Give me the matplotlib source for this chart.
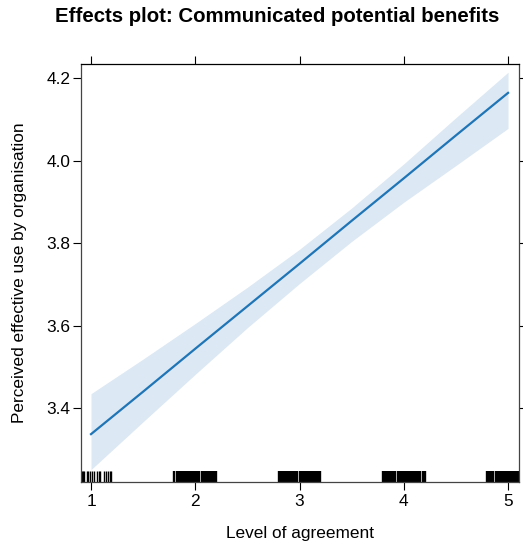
import matplotlib
matplotlib.use('Agg')
import matplotlib.pyplot as plt
import matplotlib.transforms as mtransforms

plt.rcParams['font.family'] = ['Liberation Sans', 'DejaVu Sans']

# fitted effect and confidence band
agree = [1.0, 1.5, 2.0, 2.5, 3.0, 3.5, 4.0, 4.5, 5.0]
fit   = [3.337, 3.440, 3.544, 3.647, 3.750, 3.854, 3.957, 4.061, 4.164]
lower = [3.251, 3.367, 3.482, 3.595, 3.702, 3.804, 3.899, 3.988, 4.078]
upper = [3.435, 3.519, 3.605, 3.693, 3.785, 3.885, 3.992, 4.104, 4.214]

# jittered observations for the rug
rug_1 = [0.91, 0.925, 0.935, 0.96, 0.975, 0.99, 1.01, 1.03, 1.06, 1.075,
         1.09, 1.12, 1.14, 1.16, 1.18, 1.19]
rug_2 = [1.80, 1.82, 1.84, 1.86, 1.88, 1.90, 1.92, 1.94, 1.96, 1.98, 2.00,
         2.02, 2.04, 2.06, 2.08, 2.10, 2.12, 2.14, 2.16, 2.18, 2.20]
rug_3 = [2.80, 2.82, 2.84, 2.86, 2.88, 2.90, 2.92, 2.94, 2.96, 2.98, 3.00,
         3.02, 3.04, 3.06, 3.08, 3.10, 3.12, 3.14, 3.16, 3.18, 3.20]
rug_4 = [3.80, 3.82, 3.84, 3.86, 3.88, 3.90, 3.92, 3.94, 3.96, 3.98, 4.00,
         4.02, 4.04, 4.06, 4.08, 4.10, 4.12, 4.14, 4.16, 4.18, 4.20]
rug_5 = [4.80, 4.82, 4.84, 4.86, 4.88, 4.90, 4.92, 4.94, 4.96, 4.98, 5.00,
         5.02, 5.04, 5.06, 5.08, 5.10, 5.12]

xticks = [1, 2, 3, 4, 5]
yticks = [3.4, 3.6, 3.8, 4.0, 4.2]
ytick_labels = ['3.4', '3.6', '3.8', '4.0', '4.2']

fig = plt.figure(figsize=(5.23, 5.48), dpi=100)
ax = fig.add_axes([81/523, 66/548, 438/523, 418/548])

ax.fill_between(agree, lower, upper, color='#dce8f3', lw=0)
ax.plot(agree, fit, color='#1f75b6', lw=1.6)

trans = mtransforms.blended_transform_factory(ax.transData, ax.transAxes)
for r, w in [(rug_1, 1.0), (rug_2, 1.7), (rug_3, 1.7), (rug_4, 1.7), (rug_5, 1.7)]:
    ax.vlines(r, 0, 0.027, color='black', lw=w, transform=trans)

ax.set_xlim(0.904, 5.105)
ax.set_ylim(3.221, 4.234)
ax.set_xticks(xticks)
ax.set_yticks(yticks)
ax.set_yticklabels(ytick_labels)
ax.tick_params(direction='out', length=5.8, width=0.8, top=True, right=True,
               labelsize=12.4, pad=2)
ax.tick_params(axis='x', pad=3)
for s in ax.spines.values():
    s.set_linewidth(0.9)
    s.set_color('#444444')
ax.spines['top'].set_color('black')

ax.set_xlabel('Level of agreement', fontsize=12.4, labelpad=12)
ax.set_ylabel('Perceived effective use by organisation', fontsize=12.4, labelpad=14)
fig.text(277/523, 1 - 17/548, 'Effects plot: Communicated potential benefits',
         ha='center', va='center', fontsize=14.7, fontweight='bold')

fig.savefig('out.png', dpi=100)
